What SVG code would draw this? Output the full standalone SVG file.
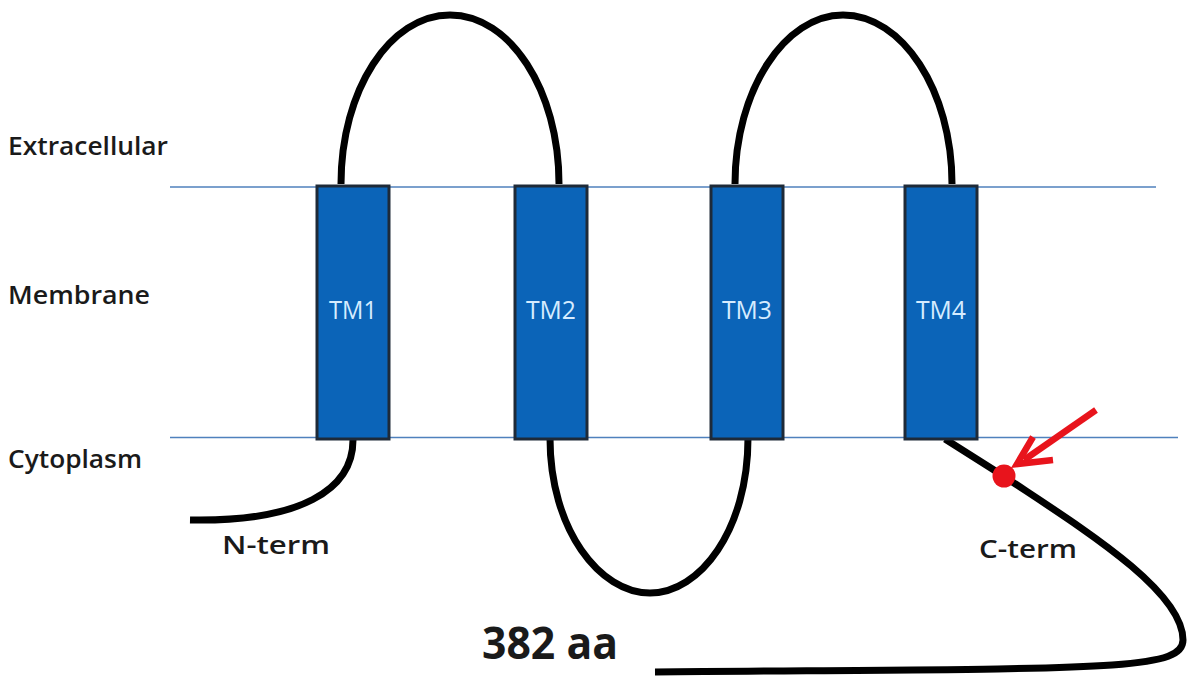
<svg xmlns="http://www.w3.org/2000/svg" width="1188" height="679" viewBox="0 0 1188 679">
<style>
.lbl{font-family:"Open Sans","Noto Sans",sans-serif;font-size:25px;fill:#1a1a1a;font-weight:600}
.tm{fill:#0b64b8;stroke:#1e2a38;stroke-width:3}
.tmt{font-family:"Open Sans","Noto Sans",sans-serif;font-size:25px;fill:#d6ecff;text-anchor:middle}
.mem{stroke:#4f81bd;stroke-width:1.5}
.chain{fill:none;stroke:#000;stroke-width:7;stroke-linecap:butt}
</style>
<rect width="1188" height="679" fill="#fff"/>
<g id="membrane-lines">
<line class="mem" x1="170" y1="187" x2="1156" y2="187"/>
<line class="mem" x1="170" y1="437.5" x2="1178" y2="437.5"/>
</g>
<g id="connectors">
<path class="chain" d="M341,184 C341,90 390,15 450,15 C510,15 559,90 559,184"/>
<path class="chain" d="M735,184 C735,90 785,15 843,15 C902,15 952,90 952,184"/>
<path class="chain" d="M550,438 C550,530 600,593 650,593 C700,593 748,530 748,438"/>
<path class="chain" d="M353,440 C353,490 300,522 190,520"/>
<path class="chain" d="M945,439 L1005,477 C1080,527 1183,590 1183,640 C1183,672 1100,668 655,672"/>
</g>
<g id="tm1"><rect class="tm" x="317" y="186" width="72" height="253"/><text class="tmt" x="353" y="319" textLength="48" lengthAdjust="spacingAndGlyphs">TM1</text></g>
<g id="tm2"><rect class="tm" x="515" y="186" width="72" height="253"/><text class="tmt" x="551" y="319" textLength="50" lengthAdjust="spacingAndGlyphs">TM2</text></g>
<g id="tm3"><rect class="tm" x="711" y="186" width="72" height="253"/><text class="tmt" x="747" y="319" textLength="50" lengthAdjust="spacingAndGlyphs">TM3</text></g>
<g id="tm4"><rect class="tm" x="905" y="186" width="72" height="253"/><text class="tmt" x="941" y="319" textLength="50" lengthAdjust="spacingAndGlyphs">TM4</text></g>
<g id="site">
<circle cx="1004" cy="476" r="11.5" fill="#e8141c"/>
<line x1="1096" y1="410" x2="1024" y2="460" stroke="#e8141c" stroke-width="6.5"/>
<polyline points="1033,437 1017,464 1053,460" fill="none" stroke="#e8141c" stroke-width="6.5" stroke-linejoin="miter"/>
</g>
<g id="labels">
<text class="lbl" x="8" y="155" textLength="160" lengthAdjust="spacingAndGlyphs">Extracellular</text>
<text class="lbl" x="8" y="304" textLength="142" lengthAdjust="spacingAndGlyphs">Membrane</text>
<text class="lbl" x="8" y="468" textLength="134" lengthAdjust="spacingAndGlyphs">Cytoplasm</text>
<text class="lbl" x="222" y="554" textLength="108" lengthAdjust="spacingAndGlyphs">N-term</text>
<text class="lbl" x="979" y="558" textLength="98" lengthAdjust="spacingAndGlyphs">C-term</text>
<text x="482" y="659" textLength="136" lengthAdjust="spacingAndGlyphs" style="font-family:'Open Sans','Noto Sans',sans-serif;font-size:44px;font-weight:700;fill:#1a1a1a">382 aa</text>
</g>
</svg>
